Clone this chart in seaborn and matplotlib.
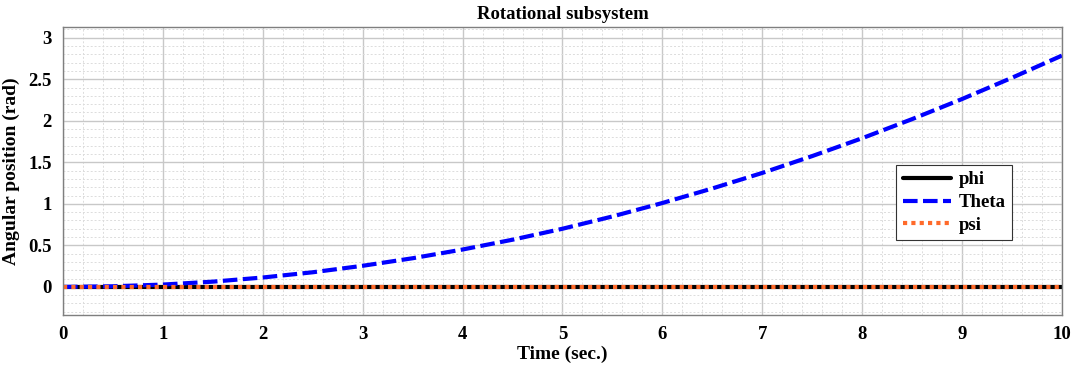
import numpy as np
import pandas as pd
import matplotlib
matplotlib.use("Agg")
import matplotlib.pyplot as plt
import seaborn as sns
from matplotlib.ticker import MultipleLocator

time = [0, 0.5, 1, 1.5, 2, 2.5, 3, 3.5, 4, 4.5, 5, 5.5, 6, 6.5, 7, 7.5, 8, 8.5, 9, 9.5, 10]
phi = [0.0] * len(time)
theta = [0.0, 0.007, 0.028, 0.063, 0.113, 0.176, 0.254, 0.345, 0.450, 0.568, 0.700,
         0.848, 1.010, 1.185, 1.372, 1.575, 1.790, 2.020, 2.262, 2.518, 2.785]
psi = [0.0] * len(time)

series_names = ["phi", "Theta", "psi"]
colors = {"phi": "black", "Theta": "#0000ff", "psi": "#ff6a2a"}

df = pd.concat([
    pd.DataFrame({"Time": time, "value": phi, "series": "phi"}),
    pd.DataFrame({"Time": time, "value": theta, "series": "Theta"}),
    pd.DataFrame({"Time": time, "value": psi, "series": "psi"}),
])

sns.set_style("white")
plt.rcParams["font.family"] = ["Liberation Serif", "DejaVu Serif"]
plt.rcParams["font.weight"] = "bold"
plt.rcParams["text.color"] = "black"
plt.rcParams["axes.labelcolor"] = "black"
plt.rcParams["xtick.color"] = "black"
plt.rcParams["ytick.color"] = "black"

fig = plt.figure(figsize=(10.77, 3.69), dpi=100)
ax = fig.add_axes([0.0585, 0.146, 0.9275, 0.781])

for name in series_names:
    sub = df[df["series"] == name]
    sns.lineplot(data=sub, x="Time", y="value", ax=ax, color=colors[name],
                 linewidth=3, label=name, estimator=None)
for line, name in zip(ax.get_lines(), series_names):
    if name == "Theta":
        line.set_dashes([3.5, 1.3])
    elif name == "psi":
        line.set_dashes([1, 1])

ax.set_xlim(0, 10)
ax.set_ylim(-0.34, 3.13)
ax.xaxis.set_major_locator(MultipleLocator(1))
ax.xaxis.set_minor_locator(MultipleLocator(0.2))
ax.yaxis.set_minor_locator(MultipleLocator(0.1))
ax.set_yticks([0, 0.5, 1, 1.5, 2, 2.5, 3])
ax.set_yticklabels(["0", "0.5", "1", "1.5", "2", "2.5", "3"])
ax.grid(which="major", color="#c8c8c8", linewidth=1, linestyle="-")
ax.grid(which="minor", color="#dcdcdc", linewidth=0.7, linestyle=(0, (2, 2)))
ax.set_axisbelow(True)
ax.tick_params(which="both", direction="in", length=0, labelsize=13.5, pad=8)
for lab in ax.get_xticklabels() + ax.get_yticklabels():
    lab.set_fontweight("bold")
for s in ax.spines.values():
    s.set_color("#7f7f7f")
    s.set_linewidth(1)

ax.set_xlabel("Time (sec.)", fontsize=14, fontweight="bold", labelpad=2)
ax.set_ylabel("Angular position (rad)", fontsize=14, fontweight="bold", labelpad=6)
ax.set_title("Rotational subsystem", fontsize=13.5, fontweight="bold", pad=6)

leg = ax.legend(loc="upper left", bbox_to_anchor=(0.834, 0.522), frameon=True,
                fancybox=False, edgecolor="#333333", framealpha=1,
                prop={"weight": "bold", "size": 13.5}, handlelength=2.6,
                borderpad=0.35, labelspacing=0.3, handletextpad=0.4,
                borderaxespad=0)
leg.get_frame().set_linewidth(0.8)

fig.savefig("out.png", dpi=100)
